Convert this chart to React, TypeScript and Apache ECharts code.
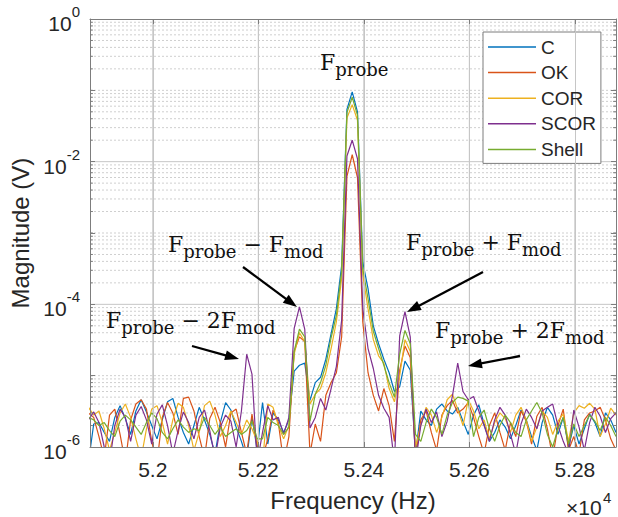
import React, { useEffect, useRef } from "react";
import * as echarts from "echarts";

// Frequency sampling points (Hz)
const FREQ_HZ = [
  51878, 51888, 51898, 51908, 51918, 51928, 51938, 51948, 51958, 51968,
  51978, 51988, 51998, 52008, 52018, 52028, 52038, 52048, 52058, 52068,
  52078, 52088, 52098, 52108, 52118, 52128, 52138, 52148, 52158, 52168,
  52178, 52188, 52198, 52208, 52218, 52228, 52238, 52248, 52258, 52268,
  52278, 52288, 52298, 52308, 52318, 52328, 52338, 52348, 52358, 52368,
  52378, 52388, 52398, 52408, 52418, 52428, 52438, 52448, 52458, 52468,
  52478, 52488, 52498, 52508, 52518, 52528, 52538, 52548, 52558, 52568,
  52578, 52588, 52598, 52608, 52618, 52628, 52638, 52648, 52658, 52668,
  52678, 52688, 52698, 52708, 52718, 52728, 52738, 52748, 52758, 52768,
  52778, 52788, 52798, 52808, 52818, 52828, 52838, 52848, 52858, 52868,
  52878,
];

// Magnitudes in microvolts (µV)
const C_UV = [
  0.6, 2.1, 2.2, 1.6, 1.2, 2.6, 3.8, 2.5, 1.5, 3.2,
  4.6, 3.1, 2.0, 1.3, 2.4, 4.3, 4.8, 2.6, 1.6, 1.1,
  2.0, 3.6, 2.4, 1.5, 0.8, 2.2, 4.2, 3.3, 1.9, 1.2,
  0.7, 2.6, 0.9, 4.2, 1.1, 3.0, 2.4, 1.6, 2.4, 11.6,
  14, 15, 4.5, 8, 9.5, 17, 39, 87, 350, 54000,
  95000, 50000, 390, 166, 50, 28, 17, 11, 6, 7,
  16, 12, 0.8, 3.2, 2.4, 2.0, 3.4, 4.0, 3.2, 2.9,
  3.6, 2.3, 1.5, 2.8, 3.9, 2.1, 1.2, 1.6, 2.4, 1.9,
  1.3, 2.0, 3.3, 2.4, 1.4, 0.9, 2.2, 3.6, 2.8, 1.5,
  2.6, 1.0, 2.0, 1.1, 1.8, 2.9, 2.2, 1.4, 3.0, 2.4,
  1.6,
];
const OK_UV = [
  3.0, 2.6, 1.4, 0.7, 2.8, 3.4, 1.5, 0.6, 2.4, 4.0,
  4.6, 3.4, 1.2, 0.6, 2.6, 4.2, 3.0, 1.5, 4.8, 5.0,
  3.2, 1.4, 0.7, 2.5, 3.6, 2.2, 1.0, 3.0, 3.4, 1.6,
  0.8, 2.9, 1.0, 0.7, 1.3, 3.3, 2.2, 0.6, 1.4, 22,
  35, 30, 0.8, 2.1, 1.2, 5.3, 8, 11, 35, 6200,
  12500, 6000, 57, 11, 5.3, 3.2, 6.6, 3.8, 1.2, 12,
  26, 18, 0.7, 2.4, 3.2, 1.6, 0.9, 2.8, 3.8, 4.5,
  3.0, 3.4, 4.2, 2.6, 1.4, 0.8, 2.0, 3.0, 1.6, 0.9,
  2.2, 1.4, 3.2, 2.3, 1.1, 2.7, 3.6, 1.8, 0.7, 2.0,
  3.4, 0.9, 1.4, 0.8, 2.4, 3.0, 3.2, 3.6, 2.4, 1.3,
  0.9,
];
const COR_UV = [
  3.6, 2.8, 3.2, 1.8, 0.9, 1.6, 3.0, 4.0, 2.6, 1.3,
  0.7, 1.8, 3.4, 3.8, 2.2, 1.1, 2.4, 4.1, 3.6, 2.0,
  0.9, 1.6, 3.8, 4.4, 2.8, 1.4, 2.0, 3.2, 2.2, 1.5,
  2.4, 1.8, 1.2, 0.6, 4.0, 3.6, 2.0, 1.3, 2.0, 20,
  40, 30, 4.0, 5.5, 6.6, 11, 24, 57, 230, 41000,
  63000, 38000, 260, 87, 32, 19, 15, 6.6, 4.3, 10,
  32, 22, 1.0, 2.0, 3.6, 2.8, 1.6, 2.6, 4.6, 5.5,
  3.4, 2.0, 4.6, 3.2, 1.8, 2.4, 1.3, 2.2, 3.0, 2.5,
  1.6, 2.8, 3.6, 2.4, 1.2, 1.9, 3.2, 2.6, 1.5, 2.3,
  2.9, 1.2, 3.0, 3.8, 3.5, 4.1, 3.4, 1.4, 2.1, 3.5,
  2.8,
];
const SCOR_UV = [
  2.4, 3.1, 2.2, 1.0, 0.6, 2.0, 3.4, 2.6, 1.2, 2.8,
  3.7, 2.4, 1.1, 2.9, 3.9, 2.0, 0.8, 1.7, 3.1, 2.2,
  1.3, 2.6, 3.3, 1.7, 0.7, 1.9, 2.8, 2.3, 1.0, 3.2,
  20, 10.5, 0.6, 1.6, 3.8, 2.4, 2.6, 1.5, 2.6, 46,
  92, 45, 1.85, 2.6, 4.8, 3.3, 6.6, 13.5, 60, 12000,
  20000, 11000, 87, 24, 12.6, 5.3, 3.5, 2.6, 0.6, 36,
  79, 35, 0.6, 2.0, 3.4, 2.2, 3.1, 1.4, 2.3, 5.2,
  15, 6, 4.6, 5.1, 3.2, 2.0, 1.2, 2.4, 3.6, 2.8,
  1.5, 0.8, 2.1, 3.4, 2.6, 1.8, 3.2, 3.6, 4.0, 2.0,
  1.2, 0.8, 3.3, 1.9, 0.9, 2.2, 3.6, 2.7, 1.6, 2.5,
  3.0,
];
const SHELL_UV = [
  2.6, 2.4, 2.0, 2.2, 1.7, 1.4, 2.3, 2.8, 2.4, 1.9,
  1.5, 2.2, 3.0, 2.5, 1.6, 1.3, 1.8, 2.4, 1.9, 1.6,
  1.8, 1.7, 2.6, 2.0, 1.5, 1.9, 1.4, 1.6, 1.8, 1.5,
  1.7, 2.3, 1.3, 1.3, 2.6, 2.2, 2.0, 1.5, 1.9, 22,
  45, 35, 2.3, 5.5, 8, 14, 34, 70, 290, 49000,
  80000, 45000, 316, 120, 42, 24, 14, 8, 5, 20,
  43, 28, 1.5, 1.2, 2.2, 3.4, 2.6, 1.5, 2.8, 4.2,
  5.0, 4.8, 4.4, 1.4, 2.6, 3.3, 1.8, 1.2, 2.0, 2.8,
  2.2, 1.6, 1.4, 2.4, 3.2, 4.2, 3.0, 1.5, 1.0, 1.8,
  2.6, 1.1, 2.1, 1.4, 2.0, 2.8, 2.3, 1.7, 2.6, 2.0,
  1.4,
];

const SERIES_NAMES = ["C", "OK", "COR", "SCOR", "Shell"];
const SERIES_UV = [C_UV, OK_UV, COR_UV, SCOR_UV, SHELL_UV];
const COLORS = ["#0072BD", "#D95319", "#EDB120", "#7E2F8E", "#77AC30"];

const X_TICKS = [52000, 52200, 52400, 52600, 52800];
const X_MIN = 51881;
const X_MAX = 52878;
const Y_MIN = 1e-6;
const Y_MAX = 1;
const Y_MAJOR_GRID = [1e-4, 1e-2];

const SANS = '"Liberation Sans", Arial, Helvetica, sans-serif';
const SERIF = '"DejaVu Serif", "Liberation Serif", serif';
const FRAME = "#7d7d7d";
const TEXT = "#262626";
const MAJOR_GRID = "#c6c6c6";

function measure(text: string, font: string): number {
  const c = document.createElement("canvas");
  const ctx = c.getContext("2d");
  if (!ctx) return text.length * 10;
  ctx.font = font;
  return ctx.measureText(text).width;
}

type Piece = [string, boolean];
function mathLabel(x0: number, baseline: number, pieces: Piece[]) {
  const out: any[] = [];
  let x = x0;
  const big = 22;
  const small = 18;
  for (const [t, sub] of pieces) {
    const fs = sub ? small : big;
    const yb = sub ? baseline + 5 : baseline;
    out.push({
      type: "text",
      x,
      y: yb - fs * 0.32,
      silent: true,
      z: 20,
      style: {
        text: t,
        fontSize: fs,
        fontFamily: SERIF,
        fill: "#111",
        align: "left",
        verticalAlign: "middle",
      },
    });
    x += measure(t, `${fs}px ${SERIF}`);
  }
  return out;
}

function arrow(x1: number, y1: number, x2: number, y2: number) {
  const dx = x2 - x1;
  const dy = y2 - y1;
  const len = Math.sqrt(dx * dx + dy * dy);
  const ux = dx / len;
  const uy = dy / len;
  const hl = 14;
  const hw = 5;
  const bx = x2 - ux * hl;
  const by = y2 - uy * hl;
  const nx = -uy;
  const ny = ux;
  return [
    {
      type: "line",
      silent: true,
      z: 20,
      shape: { x1, y1, x2: bx + ux * 2, y2: by + uy * 2 },
      style: { stroke: "#000", lineWidth: 2.3 },
    },
    {
      type: "polygon",
      silent: true,
      z: 20,
      shape: {
        points: [
          [x2, y2],
          [bx + nx * hw, by + ny * hw],
          [bx - nx * hw, by - ny * hw],
        ],
      },
      style: { fill: "#000" },
    },
  ];
}

export default function App() {
  const ref = useRef<HTMLDivElement>(null);

  useEffect(() => {
    document.body.style.margin = "0";
    const el = ref.current;
    if (!el) return;
    const chart = echarts.init(el, undefined, { renderer: "svg" });

    // log-scale minor positions (2..9 x 10^d, plus unlabeled odd decades)
    const minorY: number[] = [];
    for (let d = -6; d <= -1; d++) {
      for (let m = 2; m <= 9; m++) minorY.push(m * Math.pow(10, d));
      if (d % 2 !== 0) minorY.push(Math.pow(10, d));
    }

    const hLines = (vals: number[], x1: number, x2: number) => {
      const out: any[] = [];
      vals.forEach((v) => {
        out.push([x1, v], [x2, v], [x2, "-"]);
      });
      return out;
    };
    const vLines = (vals: number[]) => {
      const out: any[] = [];
      vals.forEach((v) => {
        out.push([v, Y_MIN * 1.0001], [v, Y_MAX * 0.9999], [v, "-"]);
      });
      return out;
    };

    const helperBase = {
      type: "line",
      symbol: "none",
      showSymbol: false,
      silent: true,
      connectNulls: false,
      clip: true,
      legendHoverLink: false,
      tooltip: { show: false },
    };

    const minorTickHz = 5.5; // ~3px tick length in data units
    const helperSeries: any[] = [
      {
        ...helperBase,
        name: "_majorGridV",
        z: 1,
        data: vLines(X_TICKS),
        lineStyle: { color: MAJOR_GRID, width: 1, type: "solid" },
        itemStyle: { color: MAJOR_GRID },
      },
      {
        ...helperBase,
        name: "_majorGridH",
        z: 1,
        data: hLines(Y_MAJOR_GRID, X_MIN, X_MAX),
        lineStyle: { color: MAJOR_GRID, width: 1, type: "solid" },
        itemStyle: { color: MAJOR_GRID },
      },
      {
        ...helperBase,
        name: "_minorGrid",
        z: 1,
        data: hLines(minorY, X_MIN, X_MAX),
        lineStyle: { color: "#cfcfcf", width: 1, type: [2, 2] },
        itemStyle: { color: "#cfcfcf" },
      },
      {
        ...helperBase,
        name: "_minorTicks",
        z: 5,
        data: [
          ...hLines(minorY, X_MIN, X_MIN + minorTickHz),
          ...hLines(minorY, X_MAX - minorTickHz, X_MAX),
        ],
        lineStyle: { color: FRAME, width: 1, type: "solid" },
        itemStyle: { color: FRAME },
      },
    ];

    const series = SERIES_NAMES.map((name, i) => ({
      name,
      type: "line",
      data: FREQ_HZ.map((f, k) => [f, SERIES_UV[i][k] * 1e-6]),
      symbol: "none",
      showSymbol: false,
      clip: true,
      silent: true,
      z: 3,
      lineStyle: { width: 1.2, color: COLORS[i] },
      itemStyle: { color: COLORS[i] },
    }));

    const graphic: any[] = [
      ...mathLabel(320, 70, [["F", false], ["probe", true]]),
      ...mathLabel(168, 252, [["F", false], ["probe", true], [" − F", false], ["mod", true]]),
      ...mathLabel(406, 250, [["F", false], ["probe", true], [" + F", false], ["mod", true]]),
      ...mathLabel(106, 328, [["F", false], ["probe", true], [" − 2F", false], ["mod", true]]),
      ...mathLabel(435, 338, [["F", false], ["probe", true], [" + 2F", false], ["mod", true]]),
      ...arrow(243, 267, 297, 307),
      ...arrow(192, 346, 239, 359),
      ...arrow(483, 272, 407, 312),
      ...arrow(520, 356, 468, 366),
      {
        type: "text",
        x: 566,
        y: 507,
        silent: true,
        style: { text: "×10", fontSize: 21, fontFamily: SANS, fill: TEXT, verticalAlign: "middle", align: "left" },
      },
      {
        type: "text",
        x: 603,
        y: 497,
        silent: true,
        style: { text: "4", fontSize: 15, fontFamily: SANS, fill: TEXT, verticalAlign: "middle", align: "left" },
      },
    ];

    const axisLine = { show: true, lineStyle: { color: FRAME, width: 1 } };
    const tickInside = { show: true, inside: true, length: 5, lineStyle: { color: FRAME } };

    const option: any = {
      animation: false,
      backgroundColor: "#ffffff",
      grid: { left: 90, top: 19, width: 526, height: 430, containLabel: false },
      legend: {
        data: SERIES_NAMES,
        orient: "vertical",
        left: 483,
        top: 32,
        backgroundColor: "#ffffff",
        borderColor: FRAME,
        borderWidth: 1,
        borderRadius: 0,
        padding: [5, 5, 4, 5],
        itemGap: 5.6,
        itemWidth: 48,
        itemHeight: 1.5,
        icon: "rect",
        z: 10,
        textStyle: { fontSize: 19, color: TEXT, fontFamily: SANS, lineHeight: 20 },
      },
      xAxis: [
        {
          type: "value",
          position: "bottom",
          min: X_MIN,
          max: X_MAX,
          z: 10,
          axisLine,
          axisTick: { ...tickInside, customValues: X_TICKS },
          axisLabel: {
            customValues: X_TICKS,
            formatter: (v: number) => String(v / 10000),
            fontSize: 21,
            fontFamily: SANS,
            color: TEXT,
            margin: 12,
          },
          splitLine: { show: true, lineStyle: { color: MAJOR_GRID, width: 1 } },
          name: "Frequency (Hz)",
          nameLocation: "middle",
          nameGap: 41,
          nameTextStyle: { fontSize: 24, fontFamily: SANS, color: TEXT },
        },
        {
          type: "value",
          position: "top",
          min: X_MIN,
          max: X_MAX,
          z: 10,
          axisLine,
          axisTick: { ...tickInside, customValues: X_TICKS },
          axisLabel: { show: false },
          splitLine: { show: false },
        },
      ],
      yAxis: [
        {
          type: "log",
          logBase: 10,
          position: "left",
          min: Y_MIN,
          max: Y_MAX,
          splitNumber: 6,
          z: 10,
          axisLine,
          axisTick: tickInside,
          axisLabel: {
            margin: 10,
            formatter: (v: number) => {
              const e = Math.round(Math.log10(v));
              if (e % 2 !== 0) return "";
              return `{b|10}{s|${e}}`;
            },
            rich: {
              b: { fontSize: 21, fontFamily: SANS, color: TEXT, lineHeight: 30, verticalAlign: "bottom" },
              s: { fontSize: 15, fontFamily: SANS, color: TEXT, lineHeight: 16, verticalAlign: "top" },
            },
          },
          splitLine: { show: false },
          name: "Magnitude (V)",
          nameLocation: "middle",
          nameGap: 58,
          nameRotate: 90,
          nameTextStyle: { fontSize: 24, fontFamily: SANS, color: TEXT },
        },
        {
          type: "log",
          logBase: 10,
          position: "right",
          min: Y_MIN,
          max: Y_MAX,
          splitNumber: 6,
          z: 10,
          axisLine,
          axisTick: tickInside,
          axisLabel: { show: false },
          splitLine: { show: false },
        },
      ],
      series: [...helperSeries, ...series],
      graphic,
    };

    chart.setOption(option);
    return () => chart.dispose();
  }, []);

  return <div ref={ref} style={{ width: 618, height: 517, background: "#fff" }} />;
}
